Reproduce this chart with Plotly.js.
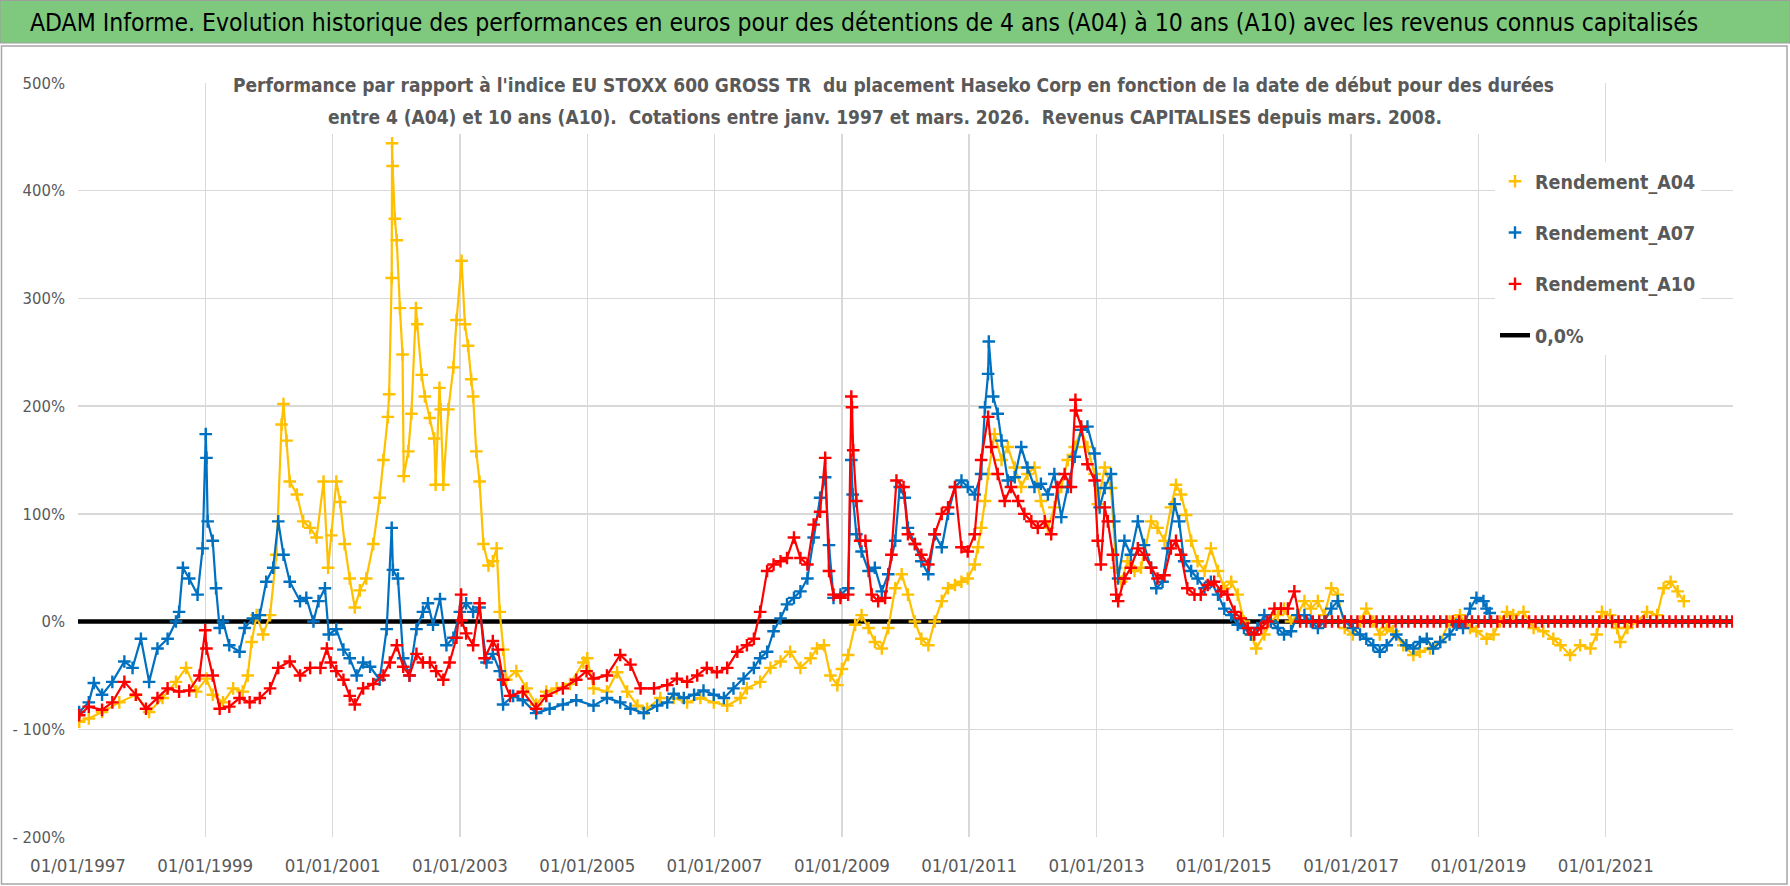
<!DOCTYPE html>
<html>
<head>
<meta charset="utf-8">
<script src="https://cdn.plot.ly/plotly-3.0.1.min.js"></script>
<style>
html,body{margin:0;padding:0;background:#fff;}
#chart{width:1790px;height:886px;}
</style>
</head>
<body>
<div id="chart"></div>
<script>
// ---------------- DATA (years as decimal years) ----------------
const seriesNames = ["Rendement_A04", "Rendement_A07", "Rendement_A10"];
const zeroLineName = "0,0%";

const a04Years = [1997.02,1997.17,1997.38,1997.65,1997.91,1998.12,1998.33,1998.54,1998.7,1998.86,1999.02,1999.12,1999.28,1999.44,1999.59,1999.67,1999.73,1999.81,1999.91,2000.02,2000.12,2000.2,2000.23,2000.28,2000.33,2000.44,2000.54,2000.65,2000.75,2000.86,2000.93,
2000.98,2001.06,2001.12,2001.19,2001.27,2001.35,2001.43,2001.53,2001.64,2001.74,2001.8,2001.87,2001.89,2001.93,2001.935,2001.945,2001.98,2002.01,2002.06,2002.1,2002.12,2002.19,2002.24,2002.31,2002.33,2002.4,2002.45,2002.53,2002.6,2002.62,2002.68,2002.7,2002.74,2002.82,2002.9,2002.95,2003.03,2003.08,2003.13,2003.18,2003.21,2003.26,2003.31,2003.37,2003.45,2003.52,2003.58,2003.63,2003.68,2003.73,2003.89,2004.05,2004.2,2004.36,2004.52,2004.73,2004.94,
2005.0,2005.1,2005.31,2005.47,2005.63,2005.79,2005.94,2006.15,2006.36,2006.57,2006.78,2006.99,2007.2,2007.41,2007.51,2007.72,2007.88,2008.04,2008.19,2008.35,2008.51,2008.61,2008.72,2008.82,2008.93,
2009.0,2009.1,2009.21,2009.31,2009.42,2009.52,2009.63,2009.73,2009.84,2009.94,2010.04,2010.15,2010.25,2010.36,2010.46,2010.57,2010.67,2010.78,2010.88,2010.98,2011.09,2011.14,2011.19,2011.25,2011.3,2011.4,2011.51,2011.61,2011.72,2011.82,2011.92,2012.03,2012.13,2012.24,2012.34,2012.45,2012.55,2012.66,2012.76,2012.86,2012.97,
2013.02,2013.13,2013.23,2013.31,2013.39,2013.49,2013.6,2013.7,2013.86,2013.96,2014.07,2014.17,2014.25,2014.33,2014.41,2014.49,2014.59,2014.7,2014.8,2014.91,2015.01,2015.12,2015.22,2015.32,2015.43,2015.51,2015.64,2015.74,2015.85,2015.95,2016.06,2016.16,2016.27,2016.37,2016.48,2016.58,2016.69,2016.79,2016.9,
2017.03,2017.14,2017.24,2017.35,2017.45,2017.56,2017.66,2017.82,2017.98,2018.08,2018.24,2018.4,2018.55,2018.71,2018.87,2018.97,2019.13,2019.24,2019.34,2019.45,2019.55,2019.71,2019.87,2020.02,2020.18,2020.29,2020.44,2020.6,2020.76,2020.86,2020.94,2021.07,2021.18,2021.23,2021.34,2021.49,2021.65,2021.81,2021.91,2022.02,2022.13,2022.23];
const a04Values = [-93,-90,-84,-75,-68,-84,-71,-56,-43,-65,-53,-68,-75,-62,-65,-50,-19,6,-12,6,62,183,202,168,130,118,93,87,78,130,50,
80,130,111,72,40,13,29,40,72,115,150,190,211,319,444,423,374,354,291,248,135,158,193,291,276,229,209,189,170,127,217,197,127,197,236,280,335,276,256,225,209,158,130,72,52,56,68,9,-26,-54,-46,-62,-77,-65,-62,-58,-38,
-34,-62,-65,-47,-65,-78,-81,-71,-71,-75,-71,-75,-78,-71,-62,-56,-43,-37,-28,-43,-34,-25,-22,-50,-59,
-44,-31,-3,6,-6,-19,-25,-6,31,44,25,0,-16,-22,0,19,31,34,37,40,53,69,87,112,137,174,150,162,143,125,137,143,112,87,106,125,150,162,178,162,137,
109,143,124,50,37,56,47,50,93,87,75,106,127,118,99,75,56,47,68,47,31,37,25,0,-12,-25,-12,0,6,12,0,6,19,12,19,6,31,25,-6,
-12,0,12,0,-12,-6,-9,-22,-31,-28,-25,-19,0,6,-6,-9,-16,-12,0,9,6,9,-6,-9,-16,-22,-31,-22,-25,-12,9,6,-6,-19,-6,0,9,6,31,37,28,19];

const a07Years = [1997.02,1997.17,1997.25,1997.38,1997.54,1997.73,1997.86,1997.99,1998.12,1998.25,1998.41,1998.54,1998.59,1998.65,1998.75,1998.88,1998.96,1999.01,1999.02,1999.04,1999.12,1999.17,1999.23,1999.28,1999.38,1999.54,1999.62,1999.75,1999.86,1999.96,2000.07,2000.15,2000.23,2000.33,2000.49,2000.59,2000.7,2000.78,2000.88,2000.94,
2001.06,2001.17,2001.27,2001.38,2001.48,2001.59,2001.74,2001.85,2001.93,2001.95,2002.03,2002.11,2002.21,2002.32,2002.42,2002.5,2002.58,2002.69,2002.79,2002.9,2003.0,2003.1,2003.21,2003.31,2003.42,2003.52,2003.63,2003.68,2003.84,2003.99,2004.2,2004.41,2004.62,2004.83,
2005.1,2005.31,2005.52,2005.68,2005.89,2006.1,2006.26,2006.36,2006.52,2006.68,2006.83,2006.99,2007.15,2007.3,2007.46,2007.62,2007.72,2007.83,2007.93,2008.04,2008.14,2008.25,2008.35,2008.46,2008.56,2008.66,2008.74,2008.8,2008.87,2008.98,
2009.1,2009.15,2009.17,2009.23,2009.31,2009.42,2009.52,2009.63,2009.73,2009.84,2009.91,2009.99,2010.04,2010.15,2010.25,2010.36,2010.46,2010.57,2010.67,2010.78,2010.88,2010.98,2011.09,2011.19,2011.25,2011.3,2011.31,2011.38,2011.45,2011.51,2011.61,2011.72,2011.82,2011.92,2012.03,2012.13,2012.24,2012.34,2012.45,2012.55,2012.66,2012.76,2012.86,2012.97,
2013.05,2013.13,2013.23,2013.28,2013.34,2013.44,2013.54,2013.65,2013.75,2013.86,2013.94,2014.04,2014.12,2014.23,2014.3,2014.38,2014.49,2014.59,2014.7,2014.8,2014.91,2015.01,2015.12,2015.22,2015.32,2015.43,2015.53,2015.64,2015.74,2015.85,2015.95,2016.06,2016.16,2016.27,2016.37,2016.48,2016.58,2016.69,2016.79,2016.9,
2017.03,2017.14,2017.24,2017.35,2017.45,2017.56,2017.71,2017.87,2017.98,2018.08,2018.19,2018.29,2018.4,2018.55,2018.66,2018.76,2018.87,2018.97,2019.08,2019.13,2019.18];
const a07Values = [-84,-75,-57,-68,-56,-37,-43,-16,-56,-25,-16,0,9,50,40,25,68,174,152,93,75,31,-6,0,-22,-28,-6,3,6,37,50,93,62,37,19,22,0,19,31,-12,
-7,-26,-34,-50,-38,-42,-54,-7,87,48,40,-34,-50,-7,9,17,-3,21,-22,-15,9,17,9,13,-38,-30,-46,-77,-69,-73,-85,-81,-77,-73,
-78,-71,-75,-81,-85,-78,-75,-67,-71,-68,-64,-68,-71,-62,-53,-43,-34,-28,-9,3,16,22,28,40,78,115,134,71,22,25,
31,150,118,81,65,47,50,28,44,75,125,115,87,72,56,44,81,69,100,125,131,125,118,137,199,230,260,209,193,168,131,134,162,143,125,128,118,137,97,125,153,178,181,156,
106,124,137,93,40,75,62,93,71,50,31,37,68,109,93,56,47,40,31,37,25,12,6,-3,-6,-12,-6,6,0,-6,-12,-9,6,6,0,-6,0,12,19,0,
-6,-12,-16,-22,-28,-22,-12,-22,-25,-19,-16,-25,-19,-12,-3,-6,12,22,19,12,8];

const a10Years = [1997.02,1997.17,1997.38,1997.54,1997.73,1997.91,1998.07,1998.25,1998.41,1998.59,1998.75,1998.91,1999.0,1999.02,1999.12,1999.23,1999.38,1999.54,1999.7,1999.86,2000.02,2000.15,2000.33,2000.49,2000.65,2000.81,2000.91,
2000.97,2001.06,2001.17,2001.27,2001.35,2001.48,2001.64,2001.8,2001.9,2002.01,2002.11,2002.21,2002.32,2002.42,2002.53,2002.63,2002.74,2002.84,2002.95,2003.02,2003.03,2003.1,2003.21,2003.31,2003.39,2003.52,2003.6,2003.68,2003.79,2003.99,2004.2,2004.36,2004.62,2004.83,2004.99,
2005.1,2005.31,2005.52,2005.68,2005.84,2006.05,2006.26,2006.41,2006.57,2006.73,2006.88,2007.04,2007.2,2007.36,2007.51,2007.62,2007.72,2007.83,2007.93,2008.04,2008.14,2008.25,2008.35,2008.46,2008.56,2008.66,2008.74,2008.8,2008.87,2008.98,
2009.1,2009.15,2009.16,2009.18,2009.23,2009.29,2009.37,2009.47,2009.57,2009.68,2009.78,2009.86,2009.97,2010.04,2010.15,2010.25,2010.36,2010.46,2010.57,2010.67,2010.78,2010.88,2010.98,2011.09,2011.19,2011.3,2011.35,2011.45,2011.56,2011.66,2011.77,2011.87,2011.98,2012.08,2012.19,2012.29,2012.39,2012.5,2012.6,2012.67,2012.68,2012.76,2012.86,2012.97,2013.02,2013.07,
2013.13,2013.18,2013.26,2013.31,2013.34,2013.44,2013.54,2013.65,2013.75,2013.86,2013.96,2014.07,2014.17,2014.25,2014.33,2014.43,2014.54,2014.64,2014.75,2014.85,2014.96,2015.06,2015.17,2015.27,2015.38,2015.48,2015.59,2015.69,2015.8,2015.9,2016.01,2016.11,
2016.2,2016.3,2016.4,2016.5,2016.6,2016.7,2016.8,2016.9,2017.0,2017.1,2017.2,2017.3,2017.4,2017.5,2017.6,2017.7,2017.8,2017.9,2018.0,2018.1,2018.2,2018.3,2018.4,2018.5,2018.6,2018.7,2018.8,2018.9,2019.0,2019.1,2019.2,2019.3,2019.4,2019.5,2019.6,2019.7,2019.8,2019.9,2020.0,2020.1,2020.2,2020.3,2020.4,2020.5,2020.6,2020.7,2020.8,2020.9,2021.0,2021.1,2021.2,2021.3,2021.4,2021.5,2021.6,2021.7,2021.8,2021.9,2022.0,2022.1,2022.2,2022.3,2022.4,2022.5,2022.6,2022.7,2022.8,2022.9,2022.99];
const a10Values = [-87,-79,-82,-75,-56,-68,-81,-71,-62,-65,-64,-50,-8,-25,-50,-81,-79,-71,-75,-71,-62,-43,-37,-50,-43,-43,-25,
-38,-46,-54,-69,-77,-62,-58,-50,-38,-22,-42,-50,-30,-38,-38,-46,-54,-38,-15,25,1,-11,-22,17,-34,-18,-26,-54,-69,-65,-81,-69,-62,-54,-46,
-53,-50,-31,-40,-62,-62,-59,-53,-56,-50,-43,-47,-43,-28,-22,-16,9,47,53,56,59,78,59,53,90,102,152,47,25,22,
25,209,199,159,112,75,75,25,19,22,62,131,125,81,72,62,53,81,100,106,125,69,65,81,150,190,162,137,112,125,112,100,93,87,93,81,125,137,125,206,196,181,146,131,75,53,
106,93,62,25,19,40,50,68,62,50,40,43,68,75,62,31,25,25,34,37,28,25,9,3,-6,-12,-6,0,12,12,12,28,
0,0,0,0,0,0,0,0,0,0,0,0,0,0,0,0,0,0,0,0,0,0,0,0,0,0,0,0,0,0,0,0,0,0,0,0,0,0,0,0,0,0,0,0,0,0,0,0,0,0,0,0,0,0,0,0,0,0,0,0,0,0,0,0,0,0,0,0,0];

const zeroLineYears = [1997.0, 2022.99];
const zeroLineValues = [0, 0];

const yTickValues = [500, 400, 300, 200, 100, 0, -100, -200];
const yTickLabels = ["500%", "400%", "300%", "200%", "100%", "0%", "- 100%", "- 200%"];
const xTickYears = [1997, 1999, 2001, 2003, 2005, 2007, 2009, 2011, 2013, 2015, 2017, 2019, 2021];
const xTickLabels = xTickYears.map(y => "01/01/" + y);

const mainTitle = "ADAM Informe. Evolution historique des performances en euros pour des détentions de 4 ans (A04) à 10 ans (A10) avec les revenus connus capitalisés";
const subTitle1 = "Performance par rapport à l'indice EU STOXX 600 GROSS TR&nbsp; du placement Haseko Corp en fonction de la date de début pour des durées";
const subTitle2 = "entre 4 (A04) et 10 ans (A10).&nbsp; Cotations entre janv. 1997 et mars. 2026.&nbsp; Revenus CAPITALISES depuis mars. 2008.";

// ---------------- helpers ----------------
function toDate(t) {
  const y = Math.floor(t);
  const s = Date.UTC(y, 0, 1), e = Date.UTC(y + 1, 0, 1);
  return new Date(s + (t - y) * (e - s)).toISOString().slice(0, 10);
}
const W = 1790, H = 886, ML = 78, MR = 57, MT = 83, MB = 49;
const PW = W - ML - MR, PH = H - MT - MB;
const px = x => (x - ML) / PW;
const py = y => (H - MB - y) / PH;

const FONT = "'Liberation Sans Narrow', 'DejaVu Sans Condensed', 'Liberation Sans', sans-serif";
const GREY = "#595959";

function seriesTraces(name, years, values, color, rank) {
  const xs = years.map(toDate);
  return [
    { type: "scatter", mode: "lines", x: xs, y: values, showlegend: false, hoverinfo: "skip",
      line: { color: color, width: 2.2 } },
    { type: "scatter", mode: "markers", name: name, x: xs, y: values,
      legendgroup: name, legendrank: rank,
      marker: { symbol: "cross-thin", size: 9, color: color, line: { color: color, width: 2.4 } } }
  ];
}

const traces = [
  { type: "scatter", mode: "lines", name: zeroLineName, x: zeroLineYears.map(toDate), y: zeroLineValues,
    legendgroup: "zero", legendrank: 4, line: { color: "#000000", width: 4.5 } },
  ...seriesTraces(seriesNames[0], a04Years, a04Values, "#FFC000", 1),
  ...seriesTraces(seriesNames[1], a07Years, a07Values, "#0070C0", 2),
  ...seriesTraces(seriesNames[2], a10Years, a10Values, "#FF0000", 3)
];

const layout = {
  width: W, height: H,
  margin: { l: ML, r: MR, t: MT, b: MB, pad: 0 },
  paper_bgcolor: "#ffffff", plot_bgcolor: "#ffffff",
  font: { family: FONT, color: GREY },
  showlegend: true,
  legend: {
    x: px(1495), y: py(162), xanchor: "left", yanchor: "top",
    bgcolor: "#ffffff", borderwidth: 0,
    font: { family: FONT, size: 19.5, color: GREY, weight: "bold" },
    tracegroupgap: 23, itemclick: false
  },
  xaxis: {
    type: "date",
    range: [toDate(1997.0), toDate(2023.0)],
    tickmode: "array",
    tickvals: xTickYears.map(y => toDate(y)),
    ticktext: xTickLabels,
    showgrid: true, gridcolor: "#D9D9D9", gridwidth: 1.3,
    zeroline: false, showline: false, ticks: "",
    ticklabelstandoff: 15,
    tickfont: { family: FONT, size: 18.5, color: GREY }
  },
  yaxis: {
    range: [-200, 500],
    tickmode: "array", tickvals: yTickValues, ticktext: yTickLabels,
    showgrid: true, gridcolor: "#D9D9D9", gridwidth: 1.3,
    zeroline: false, showline: false, ticks: "",
    ticklabelstandoff: 12,
    tickfont: { family: FONT, size: 16.5, color: GREY }
  },
  shapes: [
    { type: "rect", xref: "paper", yref: "paper", x0: px(1.5), x1: px(1787), y0: py(884), y1: py(46),
      line: { color: "#A6A6A6", width: 1.5 }, fillcolor: "rgba(0,0,0,0)", layer: "below" },
    { type: "rect", xref: "paper", yref: "paper", x0: px(0), x1: px(1790), y0: py(43), y1: py(0.5),
      line: { color: "#9E9E9E", width: 1 }, fillcolor: "#7EC97E", layer: "above" },
    { type: "rect", xref: "paper", yref: "paper", x0: px(236), x1: px(1550), y0: py(134), y1: py(66),
      line: { width: 0 }, fillcolor: "#ffffff", layer: "above" }
  ],
  annotations: [
    { text: mainTitle, xref: "paper", yref: "paper", x: px(28), y: py(22), xanchor: "left", yanchor: "middle",
      showarrow: false, font: { family: FONT, size: 24.5, color: "#000000" } },
    { text: subTitle1, xref: "paper", yref: "paper", x: px(893), y: py(85), xanchor: "center", yanchor: "middle",
      showarrow: false, font: { family: FONT, size: 19, color: GREY, weight: "bold" } },
    { text: subTitle2, xref: "paper", yref: "paper", x: px(885), y: py(117), xanchor: "center", yanchor: "middle",
      showarrow: false, font: { family: FONT, size: 19, color: GREY, weight: "bold" } }
  ]
};

Plotly.newPlot("chart", traces, layout, { staticPlot: true, displayModeBar: false });
</script>
</body>
</html>
